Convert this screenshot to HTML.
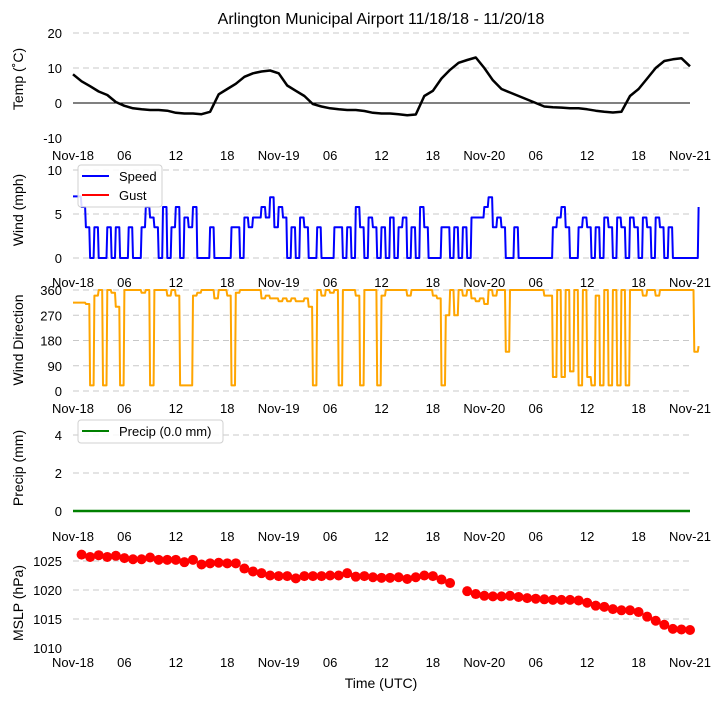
<!DOCTYPE html>
<html><head><meta charset="utf-8"><style>
html,body{margin:0;padding:0;background:#fff;}
svg text{font-family:"Liberation Sans","DejaVu Sans",sans-serif;}
</style></head><body>
<svg id="chart" width="722" height="700" viewBox="0 0 722 700" xmlns="http://www.w3.org/2000/svg">
<text x="381" y="24" font-size="16" text-anchor="middle">Arlington Municipal Airport 11/18/18 - 11/20/18</text>
<text x="381" y="688" font-size="14" text-anchor="middle">Time (UTC)</text>
</svg>
<script>
// ---- data ----
const xTickLabels = ["Nov-18","06","12","18","Nov-19","06","12","18","Nov-20","06","12","18","Nov-21"];
const xTickHours = [0,6,12,18,24,30,36,42,48,54,60,66,72];
const tempHourly = [8.2,6.2,4.8,3.3,2.3,0.3,-0.8,-1.5,-1.8,-2,-2,-2.2,-2.8,-3,-3,-3.2,-2.5,2.5,4,5.5,7.5,8.5,9,9.3,8.5,5,3.5,2,-0.3,-1,-1.5,-1.8,-2,-2,-2.3,-2.8,-3,-3,-3.2,-3.5,-3.3,2,3.5,7,9.5,11.5,12.3,13,10,6.5,4,3,2,1,0,-1,-1.2,-1.3,-1.5,-1.5,-1.8,-2.2,-2.5,-2.7,-2.5,2,4,7,10,12,12.5,12.8,10.5];
const windSpeedHalfHourly = [7,7,5.8,3.5,0,3.5,0,0,3.5,0,3.5,0,0,3.5,0,0,3.5,5.8,4.6,3.5,0,5.8,0,3.5,5.8,0,4.6,3.5,5.8,0,0,0,3.5,0,0,0,0,3.5,3.5,0,4.6,3.5,4.6,4.6,5.8,4.6,6.9,3.5,5.8,4.6,0,3.5,0,4.6,3.5,0,0,3.5,0,0,0,3.5,3.5,0,3.5,0,5.8,3.5,0,4.6,3.5,0,3.5,0,4.6,0,3.5,4.6,0,3.5,0,5.8,3.5,0,0,0,3.5,3.5,0,3.5,0,3.5,0,4.6,4.6,4.6,5.8,6.9,3.5,4.6,3.5,0,0,3.5,0,0,0,0,0,0,0,0,3.5,4.6,5.8,3.5,0,0,3.5,4.6,3.5,0,3.5,0,4.6,3.5,0,4.6,3.5,0,4.6,3.5,0,4.6,3.5,0,4.6,3.5,0,3.5,0,0,0,0,0,0,5.8];
const windDirHalfHourly = [315,315,315,310,20,340,360,20,360,350,300,20,360,360,360,360,350,360,20,360,360,360,340,360,340,20,20,20,340,350,360,360,360,330,360,360,340,20,350,360,360,360,360,360,330,340,330,330,320,330,320,330,320,320,330,300,20,360,340,360,350,360,20,360,360,360,340,20,360,360,360,20,340,360,360,360,360,360,340,360,360,360,360,360,340,330,20,270,360,270,360,340,360,330,320,330,310,360,340,360,360,140,360,360,360,360,360,360,360,360,340,340,50,360,50,360,70,360,20,360,50,20,340,20,360,20,360,20,360,20,360,360,360,340,360,360,340,360,360,360,360,360,360,360,360,140,160];
const precipHourly = [0,0,0,0,0,0,0,0,0,0,0,0,0,0,0,0,0,0,0,0,0,0,0,0,0,0,0,0,0,0,0,0,0,0,0,0,0,0,0,0,0,0,0,0,0,0,0,0,0,0,0,0,0,0,0,0,0,0,0,0,0,0,0,0,0,0,0,0,0,0,0,0,0];
const pressureHourly = [null,1026.1,1025.7,1026.0,1025.7,1025.9,1025.5,1025.3,1025.3,1025.6,1025.2,1025.2,1025.2,1024.8,1025.2,1024.4,1024.6,1024.7,1024.6,1024.6,1023.7,1023.2,1022.9,1022.5,1022.4,1022.4,1022.0,1022.4,1022.4,1022.4,1022.5,1022.5,1022.9,1022.3,1022.4,1022.2,1022.1,1022.1,1022.2,1021.9,1022.2,1022.5,1022.4,1021.8,1021.2,null,1019.8,1019.3,1019.0,1018.9,1018.9,1019.0,1018.8,1018.6,1018.5,1018.4,1018.3,1018.3,1018.3,1018.2,1017.8,1017.3,1017.1,1016.7,1016.5,1016.5,1016.2,1015.4,1014.7,1014.0,1013.3,1013.2,1013.1];
const tempTicks = [-10,0,10,20];
const windTicks = [0,5,10];
const dirTicks = [0,90,180,270,360];
const precipTicks = [0,2,4];
const presTicks = [1010,1015,1020,1025];

// ---- helpers ----
const NS = "http://www.w3.org/2000/svg";
const svg = document.getElementById("chart");
const X0 = 73, X1 = 690;
function xScale(h){ return X0 + (X1 - X0) * h / 72; }
function mk(tag, attrs){ const e = document.createElementNS(NS, tag); for (const k in attrs) e.setAttribute(k, attrs[k]); svg.appendChild(e); return e; }
function linY(v0, y0, v1, y1){ return v => y0 + (v - v0) * (y1 - y0) / (v1 - v0); }

function panel(name, yS, ticks, gridSkip, xLabY, ylabel, ylabY){
  ticks.forEach(t => {
    if (!gridSkip.includes(t)) {
      const g = mk("line", {x1:X0, x2:X1, y1:yS(t), y2:yS(t), stroke:"#c8c8c8", "stroke-width":1, "stroke-dasharray":"6,4"});
      
      
    }
    const tl = mk("text", {x:62, y:yS(t)+5, "font-size":13, "text-anchor":"end"});
    tl.textContent = t;
    
    
  });
  xTickHours.forEach((h, i) => {
    const xl = mk("text", {x:xScale(h), y:xLabY, "font-size":13, "text-anchor":"middle"});
    xl.textContent = xTickLabels[i];
    
    
  });
  const yl = mk("text", {x:0, y:0, "font-size":14, "text-anchor":"middle", transform:"translate(23," + ylabY + ") rotate(-90)"});
  yl.textContent = ylabel;
  
  
}
function series(name, values, step, yS, color, width, stepped){
  let d = "";
  let prevY = null;
  values.forEach((v, i) => {
    if (v === null) return;
    const x = xScale(i*step), y = yS(v);
    if (!d) d = "M" + x.toFixed(1) + "," + y.toFixed(1);
    else if (stepped) d += "L" + (x-0.8).toFixed(1) + "," + prevY.toFixed(1) + "L" + x.toFixed(1) + "," + y.toFixed(1);
    else d += "L" + x.toFixed(1) + "," + y.toFixed(1);
    prevY = y;
  });
  const p = mk("path", {d:d, fill:"none", stroke:color, "stroke-width":width, "stroke-linejoin":"round"});
  
  
  return p;
}

// Panel 1: temperature
const yT = linY(-10, 138, 20, 33);
panel("temp", yT, tempTicks, [-10, 0], 160, "Temp (˚C)", 79);
const zl = mk("line", {x1:X0, x2:X1, y1:yT(0), y2:yT(0), stroke:"#000", "stroke-width":1});


series("temp-line", tempHourly, 1, yT, "#000", 2.5, false);

// Panel 2: wind speed
const yW = linY(0, 258, 10, 170);
panel("wind", yW, windTicks, [], 287, "Wind (mph)", 210);
series("wind-speed-line", windSpeedHalfHourly, 0.5, yW, "#0000ff", 2, true);

// Panel 3: wind direction
const yD = linY(0, 391, 360, 290);
panel("direction", yD, dirTicks, [], 413, "Wind Direction", 340);
series("wind-direction-line", windDirHalfHourly, 0.5, yD, "#ffa500", 2, true);

// Panel 4: precipitation
const yP = linY(0, 511, 4, 435);
panel("precip", yP, precipTicks, [], 541, "Precip (mm)", 468);
series("precip-line", precipHourly, 1, yP, "#008000", 2.5, false);

// Panel 5: pressure
const yM = linY(1010, 648, 1025, 561);
panel("pressure", yM, presTicks, [1010], 667, "MSLP (hPa)", 603);
pressureHourly.forEach((v, i) => {
  if (v === null) return;
  const c = mk("circle", {cx:xScale(i), cy:yM(v), r:5, fill:"#ff0000"});
  
  
});

// Legends
function legendBox(name, x, y, w, h){
  const r = mk("rect", {x:x, y:y, width:w, height:h, rx:3, fill:"#fff", "fill-opacity":0.85, stroke:"#d0d0d0"});
  
  
}
function legendEntry(name, x, y, color, label){
  const l = mk("line", {x1:x, x2:x+27, y1:y, y2:y, stroke:color, "stroke-width":2});
  
  
  const t = mk("text", {x:x+37, y:y+5, "font-size":13});
  t.textContent = label;
  
  
}
legendBox("wind-legend", 78, 165, 84, 42);
legendEntry("legend-speed", 82, 176, "#0000ff", "Speed");
legendEntry("legend-gust", 82, 195, "#ff0000", "Gust");
legendBox("precip-legend", 78, 420, 145, 23);
legendEntry("legend-precip", 82, 431, "#008000", "Precip (0.0 mm)");
</script>
</body></html>
